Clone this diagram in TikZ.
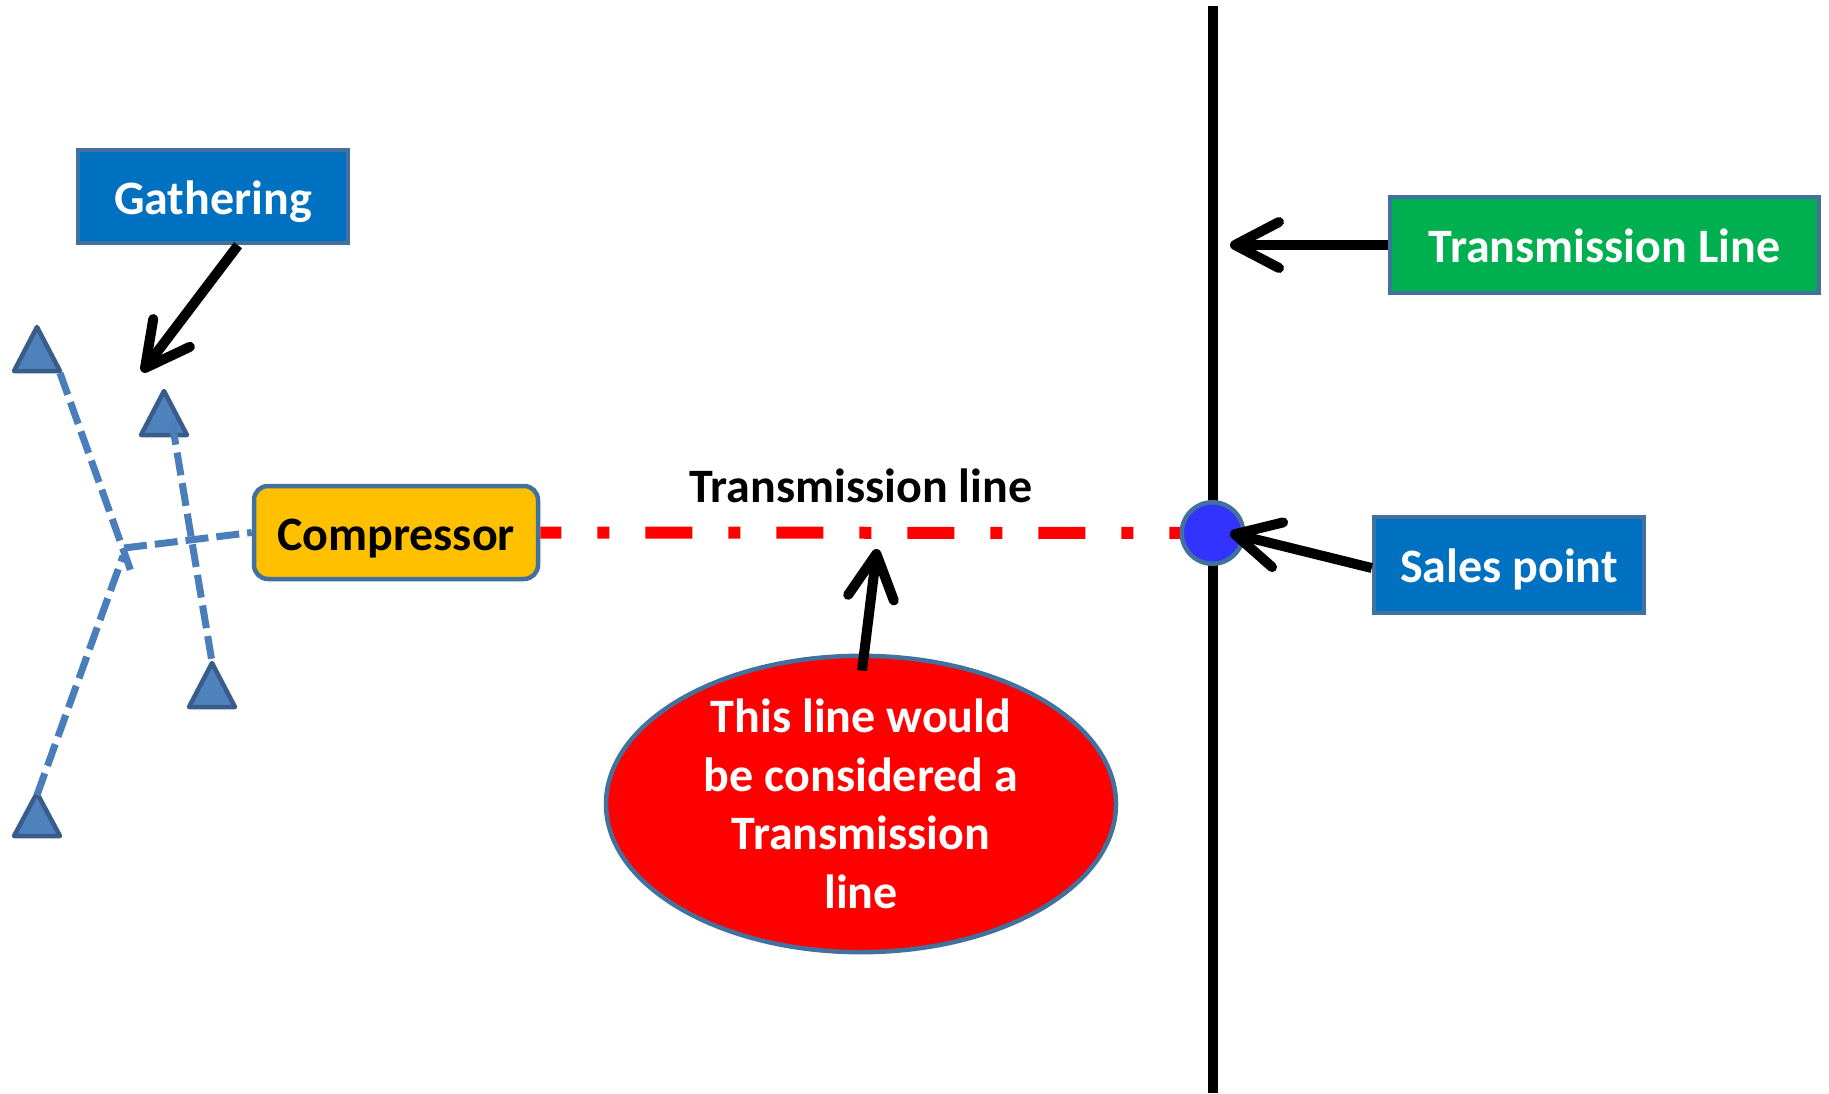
\documentclass[tikz,border=0pt]{standalone}
\usepackage{fontspec}
\setmainfont{Carlito}
\usetikzlibrary{arrows.meta,shapes.geometric}
\definecolor{boxblue}{HTML}{0070C0}
\definecolor{edgeblue}{HTML}{41719C}
\definecolor{tlgreen}{HTML}{00B050}
\definecolor{compyellow}{HTML}{FFC000}
\definecolor{dotblue}{HTML}{3333FF}
\definecolor{trifill}{HTML}{4F81BD}
\definecolor{triedge}{HTML}{385D8A}
\definecolor{pipeblue}{HTML}{4A7EBB}
\begin{document}
\begin{tikzpicture}[x=1pt,y=-1pt,
  lbl/.style={font=\fontsize{48}{58.5}\selectfont\bfseries},
  box/.style={lbl, draw=edgeblue, line width=4.5pt, text=white, inner sep=0pt, text height=40pt, text depth=5pt},
  callout/.style={line width=10pt, -{Straight Barb[length=44pt,width=46pt,round]}},
  pipeline/.style={draw=pipeblue, line width=7pt, dash pattern=on 23pt off 8pt},
  tri/.style={fill=trifill, draw=triedge, line width=4.5pt, line join=round},
]
\useasboundingbox[fill=white] (0,0) rectangle (1829,1093);

% vertical transmission line
\coordinate (vtop) at (1213,6);
\coordinate (vbot) at (1213,1093);
\draw[line width=10pt] (vtop) -- (vbot);

% boxes
\node[box, fill=boxblue, minimum width=270pt, minimum height=93pt] (gath) at (213,196.5) {Gathering};
\node[box, fill=tlgreen, minimum width=429pt, minimum height=96pt] (tl) at (1604.5,245) {Transmission Line};
\node[box, fill=boxblue, minimum width=270pt, minimum height=96pt] (sales) at (1509,565) {Sales point};
\node[box, fill=compyellow, text=black, rounded corners=14pt, minimum width=284pt, minimum height=93pt] (comp) at (396,532.5) {Compressor};

% red transmission line
\coordinate (dotc) at (1212.5,533);
\draw[red, line width=12pt, dash pattern=on 47pt off 36pt on 12pt off 36pt, dash phase=26pt] (comp.east) -- (dotc);
\node[circle, fill=dotblue, draw=edgeblue, line width=4.5pt, minimum size=61.5pt, inner sep=0pt] (dot) at (dotc) {};

\node[lbl, anchor=base] (tlabel) at (861,502) {Transmission line};

% ellipse
\node[ellipse, draw=edgeblue, fill=red, line width=4.5pt, text=white, lbl, align=center, inner sep=0pt, minimum width=510pt, minimum height=284pt] (ell) at (861,804) {This line would\\be considered a\\Transmission\\line};

% triangles
\draw[tri] (37,327) -- (60,371) -- (14,371) -- cycle;
\draw[tri] (164,391) -- (187,435) -- (141,435) -- cycle;
\draw[tri] (212,663) -- (235,707) -- (189,707) -- cycle;
\draw[tri] (37,793) -- (60,836) -- (14,836) -- cycle;

% gathering pipes
\coordinate (t1p) at (60,373);
\coordinate (l1end) at (133,577);
\coordinate (j) at (124,548);
\coordinate (t4p) at (37,795);
\coordinate (j3) at (123,556);
\coordinate (t2p) at (172,422);
\coordinate (t3p) at (212,662);
\draw[pipeline] (t1p) -- (l1end);
\draw[pipeline] (j) -- (comp.west);
\draw[pipeline] (t4p) -- (j3);
\draw[pipeline] (t2p) -- (t3p);

% callout arrows
\coordinate (gtip) at (142,372);
\draw[callout] ([xshift=25pt]gath.south) -- (gtip);
\coordinate (tltip) at (1230,245);
\draw[callout] (tl.west) -- (tltip);
\coordinate (stip) at (1230,533);
\draw[callout] ([yshift=-3pt]sales.west) -- (stip);
\coordinate (etip) at (877,549);
\draw[callout] ([yshift=-17pt,xshift=1pt]ell.north) -- (etip);
\end{tikzpicture}
\end{document}
